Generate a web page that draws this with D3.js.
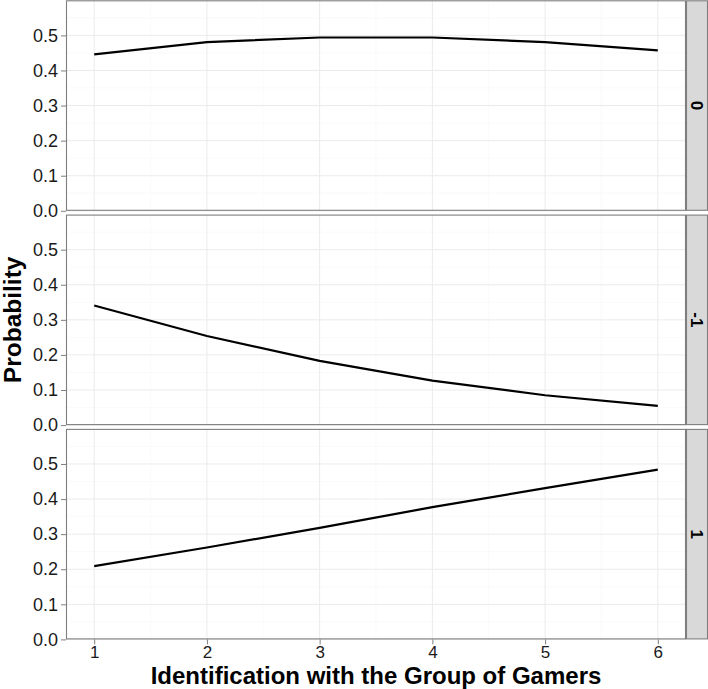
<!DOCTYPE html>
<html>
<head>
<meta charset="utf-8">
<script src="https://cdn.jsdelivr.net/npm/d3@7"></script>
<style>
body{margin:0;background:#fff;}
text{font-family:"Liberation Sans",Arial,sans-serif;}
</style>
</head>
<body>
<svg id="chart"></svg>
<script>
// data
const identification = [1,2,3,4,5,6];
const facetLabels = ["0","-1","1"];
const probZero  = [0.446,0.481,0.494,0.494,0.481,0.457];
const probMinus = [0.341,0.254,0.183,0.127,0.085,0.055];
const probPlus  = [0.209,0.262,0.318,0.377,0.431,0.484];
const yTicks = [0,0.1,0.2,0.3,0.4,0.5];
const yMinor = [0.05,0.15,0.25,0.35,0.45,0.55];
const xMinor = [1.5,2.5,3.5,4.5,5.5];

const series = [probZero,probMinus,probPlus];

const W = 708, H = 689;
const margin = {left:66,right:22,top:0.3};
const panelH = 210.5, gap = 3.8, stripW = 22;
const innerW = W-margin.left-margin.right;

const svg = d3.select("#chart").attr("width",W).attr("height",H);

const x = d3.scaleLinear().domain([0.75,6.25]).range([0,innerW]);
const y = d3.scaleLinear().domain([0,0.6]).range([panelH,0]);

const line = d3.line().x((d,i)=>x(identification[i])).y(d=>y(d));

facetLabels.forEach((lab,k)=>{
    const top = margin.top+k*(panelH+gap);
    const g = svg.append("g").attr("transform",`translate(${margin.left},${top})`);

    g.append("rect").attr("width",innerW).attr("height",panelH).attr("fill","#fff");

    // minor grid
    g.selectAll(".ym").data(yMinor).enter().append("line")
        .attr("x1",0).attr("x2",innerW).attr("y1",d=>y(d)).attr("y2",d=>y(d))
        .attr("stroke","#f7f7f7").attr("stroke-width",0.6);
    g.selectAll(".xm").data(xMinor).enter().append("line")
        .attr("y1",0).attr("y2",panelH).attr("x1",d=>x(d)).attr("x2",d=>x(d))
        .attr("stroke","#f7f7f7").attr("stroke-width",0.6);
    // major grid
    g.selectAll(".yg").data(yTicks).enter().append("line")
        .attr("x1",0).attr("x2",innerW).attr("y1",d=>y(d)).attr("y2",d=>y(d))
        .attr("stroke","#ebebeb").attr("stroke-width",1);
    g.selectAll(".xg").data(identification).enter().append("line")
        .attr("y1",0).attr("y2",panelH).attr("x1",d=>x(d)).attr("x2",d=>x(d))
        .attr("stroke","#ebebeb").attr("stroke-width",1);

    g.append("path").datum(series[k]).attr("d",line)
        .attr("fill","none").attr("stroke","#000").attr("stroke-width",2.2);

    g.append("rect").attr("x",0.5).attr("y",0.5).attr("width",innerW-1).attr("height",panelH-1)
        .attr("fill","none").attr("stroke","#7f7f7f").attr("stroke-width",1.1);

    // y axis
    const yAxis = d3.axisLeft(y).tickValues(yTicks).tickFormat(d3.format(".1f")).tickSize(5).tickPadding(3);
    const ya = g.append("g").call(yAxis);
    ya.select(".domain").remove();
    ya.selectAll("line").attr("stroke","#7f7f7f");
    ya.selectAll("text").attr("font-size",18).attr("fill","#1a1a1a")
        .style("font-family","'Liberation Sans',Arial,sans-serif");

    // strip
    const s = svg.append("g").attr("transform",`translate(${margin.left+innerW},${top})`);
    s.append("rect").attr("x",0.5).attr("y",0.5).attr("width",stripW-1).attr("height",panelH-1)
        .attr("fill","#d9d9d9").attr("stroke","#7f7f7f").attr("stroke-width",1.1);
    s.append("text").attr("transform",`translate(${stripW/2},${panelH/2}) rotate(90)`)
        .attr("text-anchor","middle").attr("dy","0.35em")
        .attr("font-size",17).attr("font-weight","bold").text(lab);

    if(k===facetLabels.length-1){
        const xAxis = d3.axisBottom(x).tickValues(identification).tickFormat(d3.format("d")).tickSize(5).tickPadding(2);
        const xa = g.append("g").attr("transform",`translate(0,${panelH})`).call(xAxis);
        xa.select(".domain").remove();
        xa.selectAll("line").attr("stroke","#7f7f7f");
        xa.selectAll("text").attr("font-size",17).attr("fill","#1a1a1a")
            .style("font-family","'Liberation Sans',Arial,sans-serif");
    }
});

svg.append("text").attr("x",margin.left+innerW/2).attr("y",684)
    .attr("text-anchor","middle").attr("font-size",24).attr("font-weight","bold")
    .text("Identification with the Group of Gamers");

svg.append("text").attr("transform",`translate(21,${margin.top+(3*panelH+2*gap)/2}) rotate(-90)`)
    .attr("text-anchor","middle").attr("font-size",24.5).attr("font-weight","bold")
    .text("Probability");
</script>
</body>
</html>
